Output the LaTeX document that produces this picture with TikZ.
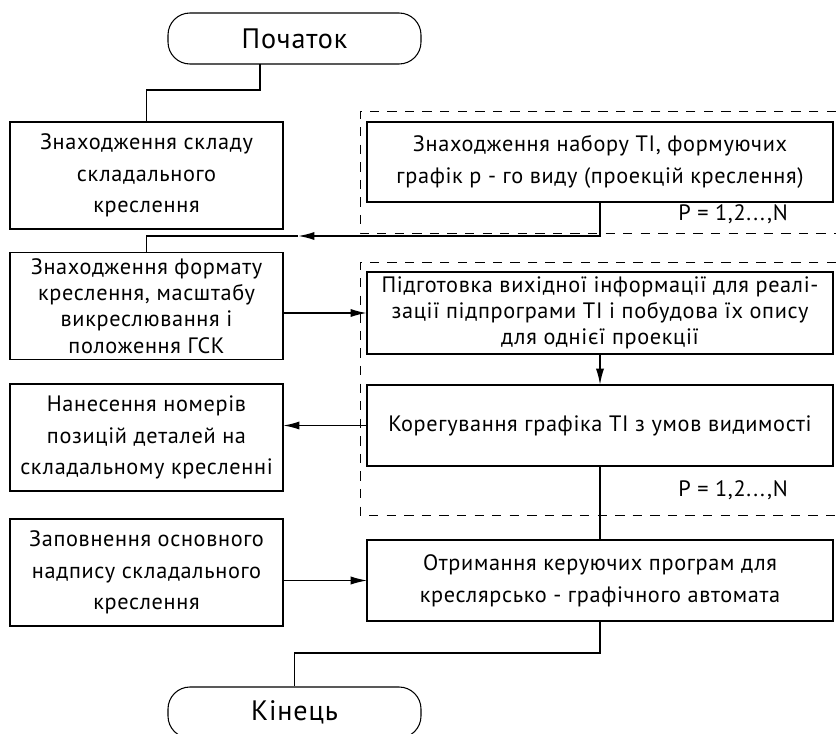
\documentclass[tikz,border=0pt]{standalone}
\usepackage{fontspec}
\setmainfont{PT Sans}[LetterSpace=3]
\usepackage{tikz}
\usetikzlibrary{arrows.meta}

\begin{document}
\begin{tikzpicture}[x=0.03cm, y=-0.03cm,
    every node/.style={font=\fontsize{19pt}{27pt}\selectfont},
    blk/.style={draw, line width=1.5pt, inner sep=0pt, outer sep=0pt, align=center},
    thinblk/.style={blk, line width=0.9pt},
    wide/.style={minimum width=13.98cm},
    narrow/.style={minimum width=8.19cm, minimum height=3.21cm},
    term/.style={draw, line width=0.9pt, rounded corners=0.66cm, minimum width=7.59cm, minimum height=1.53cm, inner sep=0pt, font=\fontsize{24pt}{28pt}\selectfont},
    flow/.style={line width=1.5pt},
    thinflow/.style={line width=0.9pt},
    tip/.style={-{Latex[length=14pt,width=7pt]}},
    region/.style={line width=0.6pt, dash pattern=on 8pt off 7pt}]
    \useasboundingbox (0,0) rectangle (836,734);
    % regions
    \draw[region] (836,111) -- (360,111) -- (360,233) -- (836,233);
    \draw[region] (836,262) -- (360,262) -- (360,515) -- (836,515);
    % nodes
    \node[term] (start) at (294.5,38.5) {Початок};
    \node[thinblk,narrow] (n1) at (146.5,175.5) {Знаходження складу\\складального\\креслення};
    \node[thinblk,wide,minimum height=2.4cm] (n2) at (600,162) {Знаходження набору ТІ, формуючих\\графік р - го виду (проекцій креслення)};
    \node (p1) at (733,214) {P = 1,2...,N};
    \node[blk,narrow,font=\fontsize{19pt}{22.5pt}\selectfont] (n3) at (146.5,306) {Знаходження формату\\креслення, масштабу\\викреслювання і\\положення ГСК};
    \node[blk,wide,minimum height=2.46cm,font=\fontsize{19pt}{22pt}\selectfont] (n4) at (600,313) {Підготовка вихідної інформації для реалі-\\зації підпрограми ТІ і побудова їх опису\\для однієї проекції};
    \node[blk,wide,minimum height=2.43cm] (n5) at (600,425.5) {Корегування графіка ТІ з умов видимості};
    \node[blk,narrow] (n6) at (146.5,437.5) {Нанесення номерів\\позицій деталей на\\складальному кресленні};
    \node (p2) at (733,490) {P = 1,2...,N};
    \node[thinblk,narrow] (n8) at (146.5,572.5) {Заповнення основного\\надпису складального\\креслення};
    \node[blk,wide,minimum height=2.43cm] (n7) at (600,580.5) {Отримання керуючих програм для\\креслярсько - графічного автомата};
    \node[term] (end) at (294.5,712.5) {Кінець};
    % links
    \coordinate (s1) at (260,64);
    \coordinate (m1) at (298,236);
    \draw[flow] (s1) -- ++(0,26) -| (n1.north);
    \draw[flow,tip] (n2.south) |- (m1);
    \draw[flow] (m1) -| (n3.north);
    \draw[flow,tip] (n3.east |- n4.west) -- (n4.west);
    \draw[flow,tip] (n4.south) -- (n5.north);
    \draw[flow,tip] (n5.west) -- (n5.west -| n6.east);
    \draw[flow] (n5.south) -- (n7.north);
    \draw[thinflow,tip] (n8.east |- n7.west) -- (n7.west);
    \draw[thinflow] (n7.south) -- ++(0,32) -| (end.north);
\end{tikzpicture}
\end{document}
